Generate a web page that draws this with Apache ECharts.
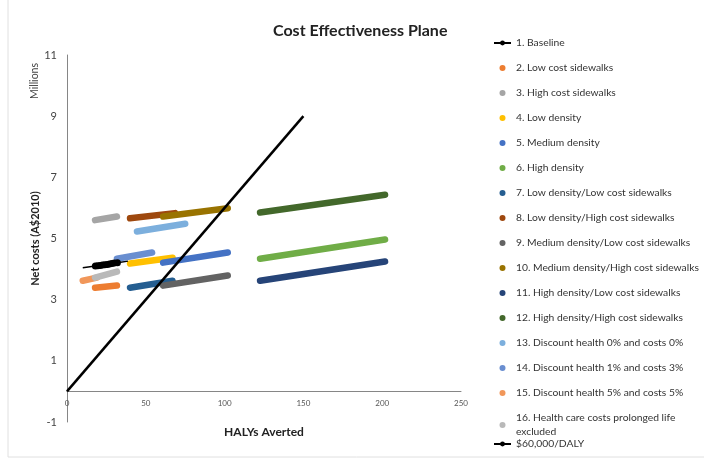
<!DOCTYPE html>
<html>
<head>
<meta charset="utf-8">
<script src="https://cdn.jsdelivr.net/npm/echarts@6/dist/echarts.min.js"></script>
<style>html,body{margin:0;padding:0;background:#fff}#c{width:704px;height:466px}</style>
</head>
<body>
<div id="c"></div>
<script>
// Series names
const seriesNames = [
  "1. Baseline",
  "2. Low cost sidewalks",
  "3. High cost sidewalks",
  "4. Low density",
  "5. Medium density",
  "6. High density",
  "7. Low density/Low cost sidewalks",
  "8. Low density/High cost sidewalks",
  "9. Medium density/Low cost sidewalks",
  "10. Medium density/High cost sidewalks",
  "11. High density/Low cost sidewalks",
  "12. High density/High cost sidewalks",
  "13. Discount health 0% and costs 0%",
  "14. Discount health 1% and costs 3%",
  "15. Discount health 5% and costs 5%",
  "16. Health care costs prolonged life excluded"
];
const thresholdName = "$60,000/DALY";

// Values: [HALYs averted, net costs (millions A$2010)] — read from the runs of scenario points
const baseline = [[10, 4.04], [18, 4.1], [19.5, 4.11], [21, 4.12], [22.5, 4.13], [24, 4.14], [25.5, 4.15], [27, 4.17],
  [28.5, 4.18], [30, 4.2], [32, 4.21], [38.7, 4.26]];
const lowCostSidewalks = [[17.8, 3.39], [31.7, 3.46]];
const highCostSidewalks = [[17.8, 5.6], [31.7, 5.72]];
const lowDensity = [[40, 4.18], [67, 4.37]];
const mediumDensity = [[61, 4.21], [102, 4.54]];
const highDensity = [[122.5, 4.34], [201.8, 4.97]];
const lowDensityLowCost = [[40, 3.39], [67, 3.62]];
const lowDensityHighCost = [[40, 5.66], [68.5, 5.83]];
const mediumDensityLowCost = [[61, 3.46], [102, 3.79]];
const mediumDensityHighCost = [[61, 5.72], [102, 5.99]];
const highDensityLowCost = [[122.5, 3.62], [201.8, 4.25]];
const highDensityHighCost = [[122.5, 5.85], [201.8, 6.43]];
const discount0 = [[44.4, 5.23], [75, 5.48]];
const discount1_3 = [[31.7, 4.34], [54, 4.54]];
const discount5 = [[10, 3.62], [19, 3.72]];
const hcExcluded = [[17.8, 3.72], [31.7, 3.92]];
const threshold = [[0, 0], [150, 9]];

// Tick values
const yTicks = [-1, 1, 3, 5, 7, 9, 11];
const xTicks = [0, 50, 100, 150, 200, 250];

const colors = ["#000000", "#ED7D31", "#A5A5A5", "#FFC000", "#4472C4", "#70AD47", "#255E91", "#9E480E",
  "#636363", "#997300", "#264478", "#43682B", "#7CAFDD", "#698ED0", "#F1975A", "#B9B9B9"];

const dataList = [baseline, lowCostSidewalks, highCostSidewalks, lowDensity, mediumDensity, highDensity,
  lowDensityLowCost, lowDensityHighCost, mediumDensityLowCost, mediumDensityHighCost, highDensityLowCost,
  highDensityHighCost, discount0, discount1_3, discount5, hcExcluded];

const FONT = "Lato";
const series = dataList.map((d, i) => {
  if (i === 0) {
    return {
      name: seriesNames[0], type: 'line', color: '#000',
      data: d.map((p, j) => (j === 0 || j === d.length - 1) ? { value: p, symbol: 'none' } : p),
      symbol: 'circle', symbolSize: 7, showSymbol: true,
      lineStyle: { width: 1.5, color: '#000' }, itemStyle: { color: '#000' },
      z: 3
    };
  }
  return {
    name: seriesNames[i], type: 'line', color: colors[i],
    data: d, symbol: 'none',
    lineStyle: { width: 6.5, color: colors[i], cap: 'round' },
    itemStyle: { color: colors[i] },
    z: 2
  };
});
series.push({
  name: thresholdName, type: 'line', color: '#000', data: threshold, symbol: 'none',
  lineStyle: { width: 2.5, color: '#000' }, itemStyle: { color: '#000' }, z: 5
});

const legendText = { fontFamily: FONT, fontSize: 10.3, color: '#333', lineHeight: 14 };

const chart = echarts.init(document.getElementById('c'));
chart.setOption({
  animation: false,
  title: {
    text: 'Cost Effectiveness Plane', left: 268, top: 18,
    textStyle: { fontFamily: FONT, fontSize: 16, fontWeight: 'bold', color: '#222' }
  },
  grid: { left: 67, right: 243, top: 55, bottom: 44, containLabel: false, outerBoundsMode: 'none' },
  legend: [{
    orient: 'vertical', left: 493, top: 36, padding: 0, itemWidth: 17, itemHeight: 6, itemGap: 11,
    data: seriesNames.map((n, i) => i === 0 ? { name: n } : { name: n, icon: 'circle' }),
    formatter: n => n === seriesNames[15] ? '16. Health care costs prolonged life\nexcluded' : n,
    textStyle: legendText
  }, {
    orient: 'vertical', left: 493, top: 437, padding: 0, itemWidth: 17, itemHeight: 6,
    data: [{ name: thresholdName }],
    textStyle: legendText
  }],
  xAxis: {
    type: 'value', min: xTicks[0], max: xTicks[xTicks.length - 1], interval: 50,
    name: 'HALYs Averted', nameLocation: 'middle', nameGap: 4,
    nameTextStyle: { fontFamily: FONT, fontSize: 12, fontWeight: 'bold', color: '#222', verticalAlign: 'top' },
    axisLine: { onZero: true, lineStyle: { color: '#868686', width: 1 } },
    axisTick: { show: false },
    axisLabel: { fontFamily: FONT, fontSize: 8, color: '#555', margin: -23 },
    splitLine: { show: false }
  },
  yAxis: {
    type: 'value', min: yTicks[0], max: yTicks[yTicks.length - 1], interval: 2,
    name: 'Net costs (A$2010)', nameLocation: 'middle', nameGap: 26, nameMoveOverlap: false,
    nameTextStyle: { fontFamily: FONT, fontSize: 11, fontWeight: 'bold', color: '#222' },
    axisLine: { show: true, lineStyle: { color: '#868686', width: 1 } },
    axisTick: { show: false },
    axisLabel: { fontFamily: FONT, fontSize: 11, color: '#444', margin: 10 },
    splitLine: { show: false }
  },
  graphic: [
    { type: 'text', left: 29, top: 63, rotation: Math.PI / 2,
      style: { text: 'Millions', fontFamily: FONT, fontSize: 10.5, fill: '#444' } },
    { type: 'rect', shape: { x: 8, y: -5, width: 710, height: 462 }, style: { fill: 'none', stroke: '#e0e0e0', lineWidth: 1 }, silent: true }
  ],
  series: series
});
</script>
</body>
</html>
